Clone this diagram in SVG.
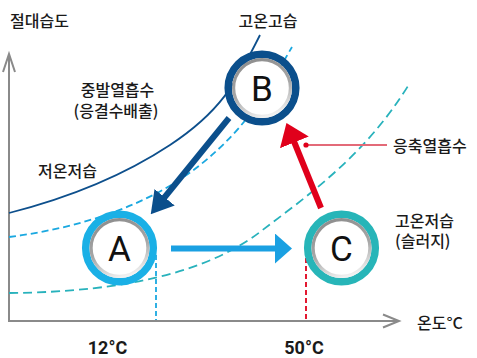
<svg xmlns="http://www.w3.org/2000/svg" width="477" height="358" viewBox="0 0 477 358">
<defs>
<style>
.kr{font-family:"Noto Sans CJK KR","Noto Sans",sans-serif;font-size:16px;font-weight:500;fill:#1a1a1a}
.tick{font-family:Roboto,"Liberation Sans","Noto Sans CJK KR",sans-serif;font-size:18px;font-weight:700;fill:#1a1a1a}
.letter{font-family:Roboto,"Liberation Sans",sans-serif;font-size:35px;fill:#111;text-anchor:middle}
.axis{stroke:#8a8a8a;stroke-width:2;fill:none}
.metal{fill:#fff;stroke:url(#metal);stroke-width:3.2}
</style>
<linearGradient id="metal" x1="0.3" y1="0" x2="0.6" y2="1">
<stop offset="0" stop-color="#8e8e8e"/>
<stop offset="0.55" stop-color="#a8a8a8"/>
<stop offset="1" stop-color="#f2f2f2"/>
</linearGradient>
<marker id="headDark" markerUnits="userSpaceOnUse" viewBox="0 0 22 26" refX="1" refY="13" markerWidth="22" markerHeight="26" orient="auto">
<path d="M0,0 L22,13 L0,26 z" fill="#0b4f8c"/>
</marker>
<marker id="headSky" markerUnits="userSpaceOnUse" viewBox="0 0 17 30" refX="1" refY="15" markerWidth="17" markerHeight="30" orient="auto">
<path d="M0,0 L17,15 L0,30 z" fill="#1aa0e2"/>
</marker>
<marker id="headRed" markerUnits="userSpaceOnUse" viewBox="0 0 21 31" refX="1" refY="15.5" markerWidth="21" markerHeight="31" orient="auto">
<path d="M0,0 L21,15.5 L0,31 z" fill="#e0001b"/>
</marker>
</defs>

<g id="axes">
<path class="axis" d="M9,321 L9,54"/>
<path class="axis" d="M3,72 L9,54 L15,72"/>
<path class="axis" d="M8,321 L399,321"/>
<path class="axis" d="M383,314.5 L399,321 L383,327.5"/>
</g>

<g id="curves" fill="none">
<path d="M9,213 C60,200 120,178 170,145 S235,85 260,35" stroke="#0d4f8c" stroke-width="1.8"/>
<path d="M9,237 C80,228 150,205 200,165 S268,88 292,47" stroke="#1aa8e0" stroke-width="1.8" stroke-dasharray="7,4"/>
<path d="M9,293 C130,292 210,270 260,232 S365,155 408,86" stroke="#28b2bc" stroke-width="1.8" stroke-dasharray="9,5"/>
<path d="M156,255 L156,320" stroke="#1aa8e0" stroke-width="1.8" stroke-dasharray="5,3"/>
<path d="M306,258 L306,320" stroke="#e0001b" stroke-width="1.8" stroke-dasharray="5,3"/>
</g>

<g id="A">
<circle cx="119.5" cy="248" r="33.8" fill="none" stroke="#1ab0e6" stroke-width="7.5"/>
<circle class="metal" cx="119.5" cy="248" r="28.4"/>
<text class="letter" x="119.5" y="260.5">A</text>
</g>
<g id="B">
<circle cx="262" cy="88" r="33.8" fill="none" stroke="#0b4f8c" stroke-width="7.5"/>
<circle class="metal" cx="262" cy="88" r="28.4"/>
<text class="letter" x="262" y="100.5">B</text>
</g>
<g id="C">
<circle cx="341.5" cy="248" r="33.8" fill="none" stroke="#27b5b8" stroke-width="7.5"/>
<circle class="metal" cx="341.5" cy="248" r="28.4"/>
<text class="letter" x="341.5" y="260.5">C</text>
</g>

<g id="connectors" fill="none">
<path d="M229,118 L164,198" stroke="#0b4f8c" stroke-width="6" marker-end="url(#headDark)"/>
<path d="M171,248.5 L276,248.5" stroke="#1aa0e2" stroke-width="6" marker-end="url(#headSky)"/>
<path d="M321,208 L294,141.5" stroke="#e0001b" stroke-width="6" marker-end="url(#headRed)"/>
<path d="M306,145 L387,145" stroke="#e36a78" stroke-width="2"/>
<circle cx="306" cy="145" r="2.6" fill="#e0001b"/>
</g>

<g id="labels">
<text class="kr" x="10" y="27">절대습도</text>
<text class="kr" x="268" y="27" text-anchor="middle">고온고습</text>
<text class="kr" x="117.5" y="95.5" text-anchor="middle">중발열흡수</text>
<text class="kr" x="116" y="116.5" text-anchor="middle">(응결수배출)</text>
<text class="kr" x="38" y="177">저온저습</text>
<text class="kr" x="393" y="152">응축열흡수</text>
<text class="kr" x="395" y="226.5">고온저습</text>
<text class="kr" x="395" y="246.5">(슬러지)</text>
<text class="kr" x="417" y="329">온도°C</text>
<text class="tick" x="107.5" y="354" text-anchor="middle">12°C</text>
<text class="tick" x="304" y="354" text-anchor="middle">50°C</text>
</g>
</svg>
